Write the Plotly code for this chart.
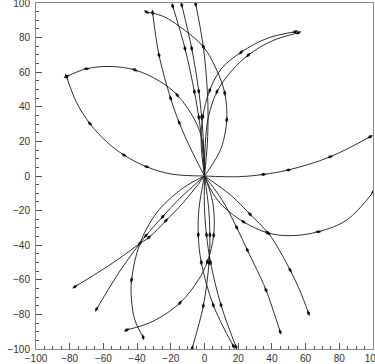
import plotly.graph_objects as go

# ---- track data; h = 1 marks a hit marker ----
right_x = [0, 20.1, 34.9, 49.8, 74.6, 98.3]
right_y = [0, -0.4, 0.9, 3.5, 11.1, 22.7]
right_h = [0, 1, 1, 1, 1, 1]

leftlow_x = [0, -19.5, -34.3, -47.8, -58.0, -68.0, -76.0, -81.9]
leftlow_y = [0, 1.1, 5.3, 12.1, 19.7, 30.3, 42.6, 57.5]
leftlow_h = [0, 1, 1, 1, 0, 1, 0, 1]

leftup_x = [0, -1.2, -5.8, -16.2, -27.0, -41.3, -56.1, -70.0, -81.9]
leftup_y = [0, 20.0, 32.4, 46.8, 55.0, 61.3, 63.3, 62.0, 57.5]
leftup_h = [0, 0, 1, 1, 0, 1, 0, 1, 1]

bigarc_x = [0, 5.5, 10.2, 13.2, 12.0, 7.2, -0.7, -14.6, -25.0, -34.4]
bigarc_y = [0, 8.0, 16.9, 32.4, 48.0, 61.3, 74.7, 86.3, 92.5, 94.8]
bigarc_h = [0, 0, 1, 1, 1, 0, 1, 0, 0, 1]

nearleft_x = [0, -8.6, -15.0, -20.1, -27.0, -30.8]
nearleft_y = [0, 16.6, 30.8, 44.9, 69.9, 94.4]
nearleft_h = [0, 1, 1, 1, 1, 1]

up1_x = [0, -1.5, -3.4, -6.0, -11.6, -18.9]
up1_y = [0, 19.0, 34.0, 48.7, 73.8, 98.3]
up1_h = [0, 1, 1, 1, 1, 1]

up2_x = [0, -0.6, -1.7, -3.4, -7.6, -13.5]
up2_y = [0, 19.0, 34.0, 49.1, 73.8, 98.8]
up2_h = [0, 1, 1, 1, 1, 1]

up3_x = [0, 1.7, 2.1, 1.7, -0.7, -5.2]
up3_y = [0, 19.0, 34.0, 49.0, 74.7, 99.4]
up3_h = [0, 1, 0, 0, 0, 1]

ur1_x = [0, -2.0, -1.0, 3.1, 10.0, 21.7, 37.0, 53.8]
ur1_y = [0, 19.0, 34.3, 49.5, 62.0, 71.5, 79.5, 83.4]
ur1_h = [0, 1, 1, 1, 0, 1, 0, 1]

ur2_x = [0, 0.5, 2.3, 7.4, 16.3, 26.0, 39.9, 55.7]
ur2_y = [0, 19.0, 34.0, 48.7, 61.0, 69.9, 78.0, 82.8]
ur2_h = [0, 0, 1, 1, 0, 1, 0, 1]

loop_x = [0, 5.0, 11.0, 23.1, 37.3, 50.8, 67.6, 84.5, 100.3]
loop_y = [0, -10.0, -17.5, -26.5, -32.8, -34.5, -32.2, -25.4, -9.1]
loop_h = [0, 0, 1, 1, 1, 0, 1, 0, 1]

dr1_x = [0, 16.2, 27.0, 37.9, 44.5, 50.8, 56.5, 61.7]
dr1_y = [0, -11.6, -22.1, -33.1, -43.0, -54.3, -66.0, -79.2]
dr1_h = [0, 1, 1, 1, 0, 1, 0, 1]

dr2_x = [0, 10.2, 19.1, 25.4, 31.0, 36.5, 44.9]
dr2_y = [0, -13.5, -29.7, -42.8, -54.0, -65.9, -90.0]
dr2_h = [0, 1, 1, 1, 0, 1, 1]

v1_x = [0, 3.6, 5.4, 5.45, 1.7, -3.6, -14.6, -30.6, -46.2]
v1_y = [0, -10.0, -19.0, -34.3, -49.5, -60.0, -73.4, -84.0, -89.0]
v1_h = [0, 0, 1, 1, 1, 0, 1, 0, 1]

v2_x = [0, 2.5, 3.2, 2.7, -0.7, -7.3]
v2_y = [0, -19.0, -34.0, -50.0, -75.0, -99.5]
v2_h = [0, 1, 1, 1, 1, 1]

v3_x = [0, -3.3, -3.7, -1.9, 5.2, 17.1]
v3_y = [0, -19.0, -34.0, -50.0, -74.6, -98.3]
v3_h = [0, 1, 1, 1, 1, 1]

v4_x = [0, 0.0, 1.2, 3.6, 9.8, 18.7]
v4_y = [0, -19.0, -34.0, -50.0, -74.6, -98.7]
v4_h = [0, 1, 1, 1, 1, 1]

t1_x = [0, -8.0, -16.5, -28.4, -38.3, -43.3, -43.3, -41.4, -36.4]
t1_y = [0, -4.0, -9.8, -21.2, -38.9, -60.1, -71.7, -83.0, -93.2]
t1_h = [0, 0, 0, 1, 1, 1, 0, 0, 1]

t2_x = [0, -14.6, -24.8, -34.8, -38.3]
t2_y = [0, -12.9, -23.5, -34.5, -38.9]
t2_h = [0, 1, 1, 1, 0]

t3_x = [0, -12.6, -22.9, -33.0, -38.3]
t3_y = [0, -15.4, -25.8, -35.5, -38.9]
t3_h = [0, 1, 1, 1, 0]

d1_x = [-38.3, -54.2, -76.9]
d1_y = [-38.9, -50.1, -64.0]
d1_h = [0, 1, 1]

d2_x = [-38.3, -50.2, -64.0]
d2_y = [-38.9, -54.9, -76.9]
d2_h = [0, 1, 1]

tracks = [
    (right_x, right_y, right_h), (leftlow_x, leftlow_y, leftlow_h),
    (leftup_x, leftup_y, leftup_h), (bigarc_x, bigarc_y, bigarc_h),
    (nearleft_x, nearleft_y, nearleft_h), (up1_x, up1_y, up1_h),
    (up2_x, up2_y, up2_h), (up3_x, up3_y, up3_h), (ur1_x, ur1_y, ur1_h),
    (ur2_x, ur2_y, ur2_h), (loop_x, loop_y, loop_h), (dr1_x, dr1_y, dr1_h),
    (dr2_x, dr2_y, dr2_h), (v1_x, v1_y, v1_h), (v2_x, v2_y, v2_h),
    (v3_x, v3_y, v3_h), (v4_x, v4_y, v4_h), (t1_x, t1_y, t1_h),
    (t2_x, t2_y, t2_h), (t3_x, t3_y, t3_h), (d1_x, d1_y, d1_h),
    (d2_x, d2_y, d2_h),
]

fig = go.Figure()
for xs, ys, hs in tracks:
    fig.add_trace(go.Scatter(
        x=xs, y=ys, mode="lines",
        line=dict(color="#1a1a1a", width=0.9, shape="spline", smoothing=1.0),
        hoverinfo="skip", showlegend=False))
    hx = [x for x, h in zip(xs, hs) if h]
    hy = [y for y, h in zip(ys, hs) if h]
    fig.add_trace(go.Scatter(
        x=hx, y=hy, mode="markers",
        marker=dict(symbol="diamond-tall", size=4.5, color="#111111",
                    angleref="previous", line=dict(width=0)),
        hoverinfo="skip", showlegend=False))

axis_common = dict(
    range=[-100, 100], dtick=20, tick0=-100,
    ticks="inside", ticklen=6, tickwidth=1, tickcolor="#555555",
    showline=True, linecolor="#8a8a8a", linewidth=1, mirror=True,
    showgrid=False, zeroline=False, ticklabeloverflow="allow",
    minor=dict(dtick=5, ticks="inside", ticklen=3, tickcolor="#555555", showgrid=False),
    fixedrange=True,
)
label_font = dict(family="Liberation Sans, Arial, sans-serif", size=10, color="#333333")

fig.update_layout(
    width=375, height=364,
    margin=dict(l=36, r=2, t=3, b=15, autoexpand=False),
    paper_bgcolor="white", plot_bgcolor="white",
    xaxis=dict(**axis_common, tickfont=label_font, ticklabelstandoff=0),
    yaxis=dict(**axis_common, tickfont=label_font, ticklabelstandoff=3),
)

fig.write_html("out.html", config={"displayModeBar": False},
               post_script="document.body.style.margin='0px';document.body.style.overflow='hidden';")
